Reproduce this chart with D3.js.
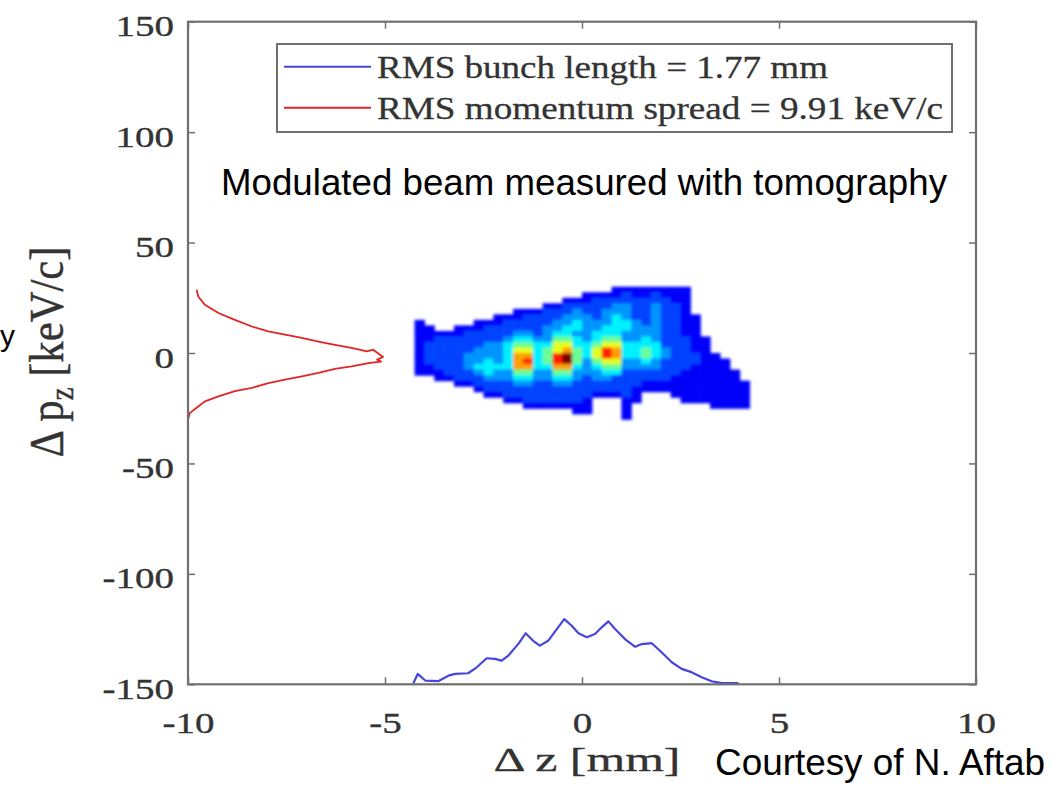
<!DOCTYPE html>
<html>
<head>
<meta charset="utf-8">
<script src="https://cdn.jsdelivr.net/npm/d3@7"></script>
<style>
  html, body { margin: 0; padding: 0; background: #fff; }
  svg { display: block; }
</style>
</head>
<body>
<svg id="chart" width="1051" height="790"></svg>
<script>
// ---- axis ticks ----
const zTicks = [-10, -5, 0, 5, 10];
const pTicks = [-150, -100, -50, 0, 50, 100, 150];

// ---- longitudinal phase-space density ----
// rows run from pz = +30 keV/c downward in 2.5 keV/c steps,
// columns run from z = -4.25 mm in 0.25 mm steps;
// '.' = empty, 0-9 = density level (see levelValues)
const densityZStart = -4.25;
const densityZStep = 0.25;
const densityPStart = 30;
const densityPStep = 2.5;
const levelValues = [0.05, 0.12, 0.19, 0.27, 0.36, 0.48, 0.60, 0.72, 0.85, 1.0];
const densityRows = [
  "....................11111111......",
  ".................11112112111......",
  "...............1112222222211......",
  ".............112222233223221......",
  "..........111222322333223221......",
  "........111222233323432232211.....",
  "1.....11122222334333443232211.....",
  "11..1112222223344334443332211.....",
  "11111222223323443344433332211.....",
  "112222222344335543455334322211....",
  "122222233455446644566444422211....",
  "122222333466456754687445432211....",
  "1222233334774589546874454322211...",
  "12222334347845895356633432222111..",
  "11222344447744774345533332221111..",
  "111222343355335533344222222111111.",
  "..1122233344334432332222221111111.",
  "....112222332233222222211111111111",
  "......1222222222222222111111111111",
  ".......1122222222211121...11111111",
  ".........112222221...11....1111111",
  "...........1111111...1........1111",
  "................11...1............",
  ".....................1............"
];

// ---- projected bunch profile (blue), drawn along the bottom ----
const bunchZ = [-4.28, -4.17, -3.98, -3.65, -3.39, -3.22, -2.89, -2.67, -2.42, -2.21,
  -2.04, -1.87, -1.62, -1.43, -1.24, -1.07, -0.86, -0.64, -0.45, -0.26,
  -0.09, 0.12, 0.33, 0.50, 0.67, 0.84, 1.09, 1.35, 1.52, 1.77,
  2.02, 2.28, 2.53, 2.78, 3.04, 3.29, 3.55, 3.97];
const bunchP = [-149.5, -145.3, -148.3, -148.6, -146.1, -145.3, -145.0, -142.3, -138.2, -138.5,
  -139.3, -137.0, -131.8, -126.9, -130.3, -132.5, -130.3, -125.0, -120.5, -123.5,
  -126.9, -128.7, -127.2, -124.2, -121.5, -125.0, -129.5, -133.0, -131.8, -131.4,
  -135.5, -140.0, -143.0, -144.5, -146.8, -148.6, -149.5, -149.5];

// ---- projected momentum profile (red), drawn along the left ----
const spreadZ = [-9.78, -9.74, -9.57, -9.23, -8.81, -8.38, -7.96, -7.54, -7.11, -6.69,
  -6.27, -5.85, -5.46, -5.30, -5.05, -5.20, -5.10, -5.38, -5.85, -6.27,
  -6.69, -7.11, -7.54, -7.96, -8.38, -8.81, -9.23, -9.57, -9.78, -9.95, -10.0];
const spreadP = [28.6, 25.6, 21.8, 18.1, 15.0, 12.0, 9.8, 8.3, 6.8, 5.2,
  3.7, 2.3, 0.7, 1.5, -1.8, -3.0, -3.9, -4.5, -6.1, -7.2,
  -9.0, -10.6, -12.1, -13.6, -15.8, -17.3, -19.6, -21.9, -24.8, -27.1, -30.0];

// ---- legend ----
const legendLabels = ["RMS bunch length = 1.77 mm", "RMS momentum spread = 9.91 keV/c"];
const legendColors = ["#4646de", "#e42424"];

const SERIF = "'Liberation Serif', 'Times New Roman', serif";
const SANS = "'Liberation Sans', Arial, sans-serif";
const AXIS_GREY = "#707070";
const TEXT_GREY = "#333333";

const svg = d3.select("#chart");
svg.append("rect").attr("width", 1051).attr("height", 790).attr("fill", "#fff");

const x = d3.scaleLinear().domain([-10, 10]).range([188, 976]);
const y = d3.scaleLinear().domain([-150, 150]).range([684.3, 21.7]);

// jet colormap
const jet = d3.scaleLinear()
  .domain([0, 0.125, 0.375, 0.625, 0.875, 1])
  .range(["#000080", "#0000ff", "#00ffff", "#ffff00", "#ff0000", "#800000"])
  .clamp(true);

const defs = svg.append("defs");
defs.append("filter").attr("id", "soft")
  .attr("filterUnits", "userSpaceOnUse")
  .attr("x", 380).attr("y", 260).attr("width", 400).attr("height", 190)
  .append("feGaussianBlur").attr("stdDeviation", 1.6);

// ---- density image ----
const cells = [];
densityRows.forEach((row, j) => {
  Array.from(row).forEach((c, i) => {
    if (c !== ".") cells.push({ i, j, v: levelValues[+c] });
  });
});
svg.append("g").attr("filter", "url(#soft)")
  .selectAll("rect").data(cells).join("rect")
  .attr("x", d => x(densityZStart + d.i * densityZStep))
  .attr("y", d => y(densityPStart - d.j * densityPStep))
  .attr("width", d => x(densityZStart + (d.i + 1) * densityZStep) - x(densityZStart + d.i * densityZStep) + 0.6)
  .attr("height", d => y(densityPStart - (d.j + 1) * densityPStep) - y(densityPStart - d.j * densityPStep) + 0.6)
  .attr("fill", d => jet(d.v));

// ---- projections ----
const line = d3.line().x(d => x(d[0])).y(d => y(d[1]));
svg.append("path")
  .attr("d", line(bunchZ.map((z, k) => [z, bunchP[k]])))
  .attr("fill", "none").attr("stroke", legendColors[0]).attr("stroke-width", 2.2)
  .attr("stroke-linejoin", "round");
svg.append("path")
  .attr("d", line(spreadZ.map((z, k) => [z, spreadP[k]])))
  .attr("fill", "none").attr("stroke", legendColors[1]).attr("stroke-width", 1.8)
  .attr("stroke-linejoin", "round");

// ---- axes ----
const fmt = d => String(d);
function styleTicks(g) {
  g.attr("font-family", SERIF).attr("font-size", 30);
  g.select(".domain").remove();
  g.selectAll(".tick line").attr("stroke", AXIS_GREY).attr("stroke-width", 1.5);
}
const gBottom = svg.append("g").attr("transform", `translate(0,${y(-150)})`)
  .call(d3.axisBottom(x).tickValues(zTicks).tickFormat(fmt).tickSizeInner(-7).tickSizeOuter(0))
  .call(styleTicks);
gBottom.selectAll(".tick text")
  .attr("y", null).attr("dy", null).attr("fill", TEXT_GREY)
  .attr("stroke", TEXT_GREY).attr("stroke-width", 0.35)
  .attr("transform", "translate(0,49) scale(1.3,1)");

const gLeft = svg.append("g").attr("transform", `translate(${x(-10)},0)`)
  .call(d3.axisLeft(y).tickValues(pTicks).tickFormat(fmt).tickSizeInner(-7).tickSizeOuter(0))
  .call(styleTicks);
gLeft.selectAll(".tick text")
  .attr("x", null).attr("dy", null).attr("fill", TEXT_GREY)
  .attr("stroke", TEXT_GREY).attr("stroke-width", 0.35)
  .attr("text-anchor", "end")
  .attr("transform", "translate(-14,14) scale(1.3,1)");

svg.append("g").attr("transform", `translate(0,${y(150)})`)
  .call(d3.axisTop(x).tickValues(zTicks).tickFormat("").tickSizeInner(-7).tickSizeOuter(0))
  .call(styleTicks);
svg.append("g").attr("transform", `translate(${x(10)},0)`)
  .call(d3.axisRight(y).tickValues(pTicks).tickFormat("").tickSizeInner(-7).tickSizeOuter(0))
  .call(styleTicks);

svg.append("rect")
  .attr("x", x(-10)).attr("y", y(150))
  .attr("width", x(10) - x(-10)).attr("height", y(-150) - y(150))
  .attr("fill", "none").attr("stroke", AXIS_GREY).attr("stroke-width", 2.2);

// ---- legend ----
const legend = svg.append("g");
legend.append("rect")
  .attr("x", 277).attr("y", 44).attr("width", 675).attr("height", 88)
  .attr("fill", "#fff").attr("stroke", AXIS_GREY).attr("stroke-width", 2);
const legendWidths = [451, 566];
legendLabels.forEach((lab, k) => {
  const ly = 66.7 + k * 41;
  legend.append("line")
    .attr("x1", 284).attr("x2", 371).attr("y1", ly).attr("y2", ly)
    .attr("stroke", legendColors[k]).attr("stroke-width", 2);
  legend.append("text")
    .attr("x", 377).attr("y", ly + 11.5)
    .attr("font-family", SERIF).attr("font-size", 32).attr("fill", TEXT_GREY)
    .attr("stroke", TEXT_GREY).attr("stroke-width", 0.3)
    .attr("textLength", legendWidths[k]).attr("lengthAdjust", "spacingAndGlyphs")
    .text(lab);
});

// ---- axis titles ----
const xTitle = svg.append("text")
  .attr("font-family", SERIF).attr("font-size", 34).attr("fill", TEXT_GREY)
  .attr("stroke", TEXT_GREY).attr("stroke-width", 0.3)
  .attr("text-anchor", "middle")
  .text("Δ z [mm]");
const xw = xTitle.node().getComputedTextLength();
xTitle.attr("transform", `translate(587,771) scale(${187 / xw},1)`);

const yTitle = svg.append("text")
  .attr("font-family", SERIF).attr("font-size", 34).attr("fill", TEXT_GREY)
  .attr("stroke", TEXT_GREY).attr("stroke-width", 0.3)
  .attr("text-anchor", "middle");
yTitle.append("tspan").text("Δ p");
yTitle.append("tspan").attr("font-size", 23).attr("dy", 7).text("z");
yTitle.append("tspan").attr("dy", -7).text(" [keV/c]");
const yw = yTitle.node().getBBox().width;
yTitle.attr("transform", `translate(63,352) rotate(-90) scale(${211 / yw},1.42)`);

// ---- annotations ----
svg.append("text")
  .attr("x", 221).attr("y", 195)
  .attr("font-family", SANS).attr("font-size", 36.5).attr("fill", "#000")
  .attr("textLength", 726).attr("lengthAdjust", "spacingAndGlyphs")
  .text("Modulated beam measured with tomography");

svg.append("text")
  .attr("x", 715).attr("y", 775)
  .attr("font-family", SANS).attr("font-size", 36.5).attr("fill", "#000")
  .attr("textLength", 330).attr("lengthAdjust", "spacingAndGlyphs")
  .text("Courtesy of N. Aftab");

svg.append("text")
  .attr("x", 0).attr("y", 346)
  .attr("font-family", SANS).attr("font-size", 30).attr("fill", "#000")
  .text("y");
</script>
</body>
</html>
